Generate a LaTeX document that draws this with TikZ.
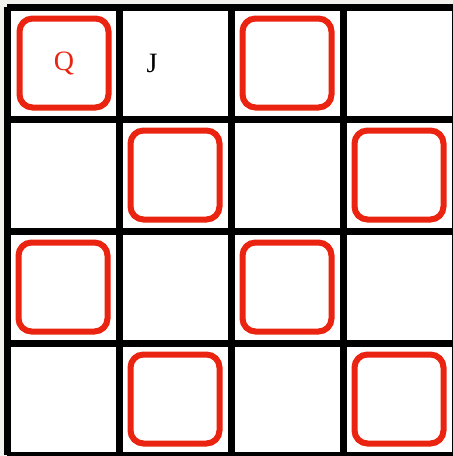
\documentclass[tikz,border=0pt]{standalone}
\usepackage{fontspec}
\setmainfont{Liberation Serif}
\definecolor{redbox}{RGB}{234,36,16}
\definecolor{margin}{RGB}{242,241,238}
\begin{document}
\begin{tikzpicture}[x=1pt,y=-1pt,
  cellbox/.style={draw=redbox,line width=6pt,rounded corners=13pt,minimum size=89pt,inner sep=0pt},
  gridline/.style={line width=7pt,black},
  label/.style={font=\fontsize{28}{30}\selectfont}]
\useasboundingbox (0,0) rectangle (453,456);
\fill[margin] (0,0) rectangle (453,456);
\fill[white] (7,7) rectangle (455,455);
\foreach \i in {0,1,2,3,4}{
  \draw[gridline] (7+112*\i,7) -- (7+112*\i,455);
  \draw[gridline] (7,7+112*\i) -- (455,7+112*\i);
}
\node[cellbox,text=redbox,label] (s00) at (64,63) {Q};
\node[cellbox] (s02) at (287,63) {};
\node[cellbox] (s11) at (175,175) {};
\node[cellbox] (s13) at (399,175) {};
\node[cellbox] (s20) at (63,287) {};
\node[cellbox] (s22) at (287,287) {};
\node[cellbox] (s31) at (175,399) {};
\node[cellbox] (s33) at (399,399) {};
\node[label] (j) at (152,63) {J};
\end{tikzpicture}
\end{document}
